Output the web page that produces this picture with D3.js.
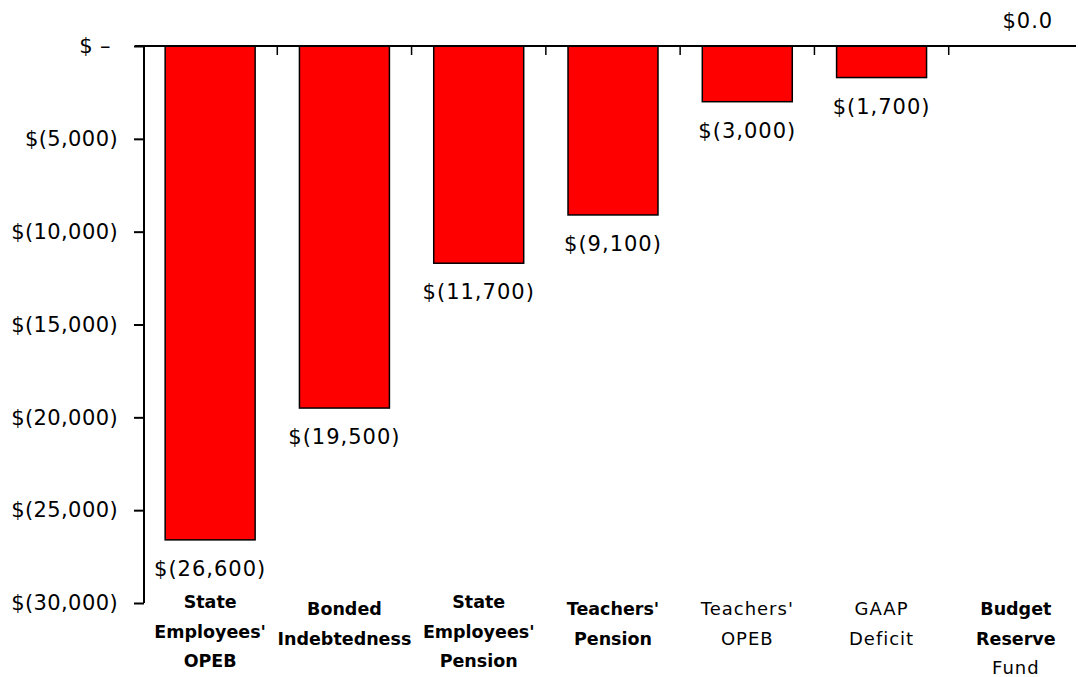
<!DOCTYPE html>
<html>
<head>
<meta charset="utf-8">
<script src="https://cdn.jsdelivr.net/npm/d3@7"></script>
<style>
  body { margin: 0; background: #fff; }
  text { font-family: "DejaVu Sans", sans-serif; }
</style>
</head>
<body>
<svg id="chart" width="1078" height="677"></svg>
<script>
// data
const categories = [
  ["State", "Employees'", "OPEB"],
  ["Bonded", "Indebtedness"],
  ["State", "Employees'", "Pension"],
  ["Teachers'", "Pension"],
  ["Teachers'", "OPEB"],
  ["GAAP", "Deficit"],
  ["Budget", "Reserve", "Fund"]
]
const values = [-26600, -19500, -11700, -9100, -3000, -1700, 0]
const valueLabels = ["$(26,600)", "$(19,500)", "$(11,700)", "$(9,100)", "$(3,000)", "$(1,700)", "$0.0"]
const yTicks = [0, -5000, -10000, -15000, -20000, -25000, -30000]
const yTickLabels = ["$ \u2013\u00a0", "$(5,000)", "$(10,000)", "$(15,000)", "$(20,000)", "$(25,000)", "$(30,000)"]

// which label lines are bold (matches the original's mixed styling)
const boldLines = [
  [true, true, true],
  [true, true],
  [true, true, true],
  [true, true],
  [false, false],
  [false, false],
  [true, true, false]
]

let svg = d3.select("#chart")

let x = d3.scaleBand()
  .domain(d3.range(values.length))
  .range([143, 1083])
  .paddingInner(0.33)
  .paddingOuter(0.165)

let y = d3.scaleLinear()
  .domain([-30000, 0])
  .range([603, 46])

// Bars
svg.append("g")
  .selectAll("rect")
  .data(values)
  .enter()
  .append("rect")
  .attr("x", (d, i) => x(i))
  .attr("width", x.bandwidth())
  .attr("y", y(0))
  .attr("height", d => y(d) - y(0))
  .attr("fill", d => d < 0 ? "#ff0000" : "none")
  .attr("stroke", d => d < 0 ? "#000" : "none")
  .attr("stroke-width", 1.5)

// Y axis
let yAxis = d3.axisLeft(y)
  .tickValues(yTicks)
  .tickFormat((d, i) => yTickLabels[i])
  .tickSize(10)
  .tickPadding(16)

let yg = svg.append("g")
  .attr("transform", "translate(144,0)")
  .call(yAxis)

yg.select(".domain").attr("stroke", "#000").attr("stroke-width", 2)
  .attr("d", "M0," + y(0) + "V" + y(-30000))
yg.selectAll(".tick line").attr("stroke", "#000").attr("stroke-width", 2)
yg.selectAll(".tick text")
  .style("font-family", "DejaVu Sans, sans-serif")
  .style("font-size", "21px")
  .style("letter-spacing", "0.4px")
  .attr("fill", "#000")

// Zero line with category ticks
let step = x.step()
let boundaries = d3.range(1, values.length).map(i => x(i) - step * x.paddingInner() / 2)

svg.append("line")
  .attr("x1", 135)
  .attr("x2", 1076)
  .attr("y1", y(0))
  .attr("y2", y(0))
  .attr("stroke", "#000")
  .attr("stroke-width", 2)

svg.append("g")
  .selectAll("line")
  .data(boundaries)
  .enter()
  .append("line")
  .attr("x1", d => d)
  .attr("x2", d => d)
  .attr("y1", y(0))
  .attr("y2", y(0) + 9)
  .attr("stroke", "#000")
  .attr("stroke-width", 1.5)

// Value labels
svg.append("g")
  .selectAll("text")
  .data(values)
  .enter()
  .append("text")
  .attr("x", (d, i) => x(i) + x.bandwidth() / 2 + (d < 0 ? 0 : 12))
  .attr("y", d => d < 0 ? y(d) + 36 : y(0) - 18)
  .attr("text-anchor", "middle")
  .style("font-size", "21px")
  .style("letter-spacing", "1px")
  .text((d, i) => valueLabels[i])

// Category labels
let catG = svg.append("g")
categories.forEach((lines, i) => {
  let top = lines.length === 3 && i !== 6 ? 608 : 615
  let t = catG.append("text")
    .attr("text-anchor", "middle")
  lines.forEach((line, j) => {
    t.append("tspan")
      .attr("x", x(i) + x.bandwidth() / 2)
      .attr("y", top + j * 29.5)
      .style("font-weight", boldLines[i][j] ? "bold" : "normal")
      .style("font-size", boldLines[i][j] ? "17.5px" : "18px")
      .style("letter-spacing", boldLines[i][j] ? "0px" : "1px")
      .text(line)
  })
})
</script>
</body>
</html>
